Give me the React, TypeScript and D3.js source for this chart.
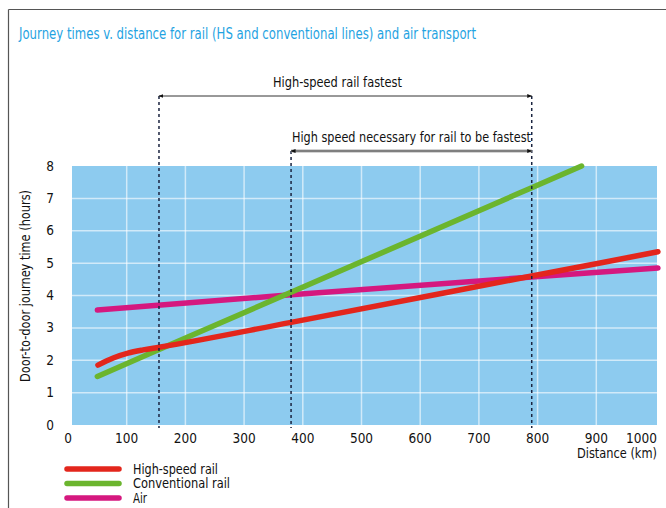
import React from "react";
import * as d3 from "d3";

const title = "Journey times v. distance for rail (HS and conventional lines) and air transport";
const seriesNames = ["High-speed rail", "Conventional rail", "Air"];
const seriesColors = ["#e3261c", "#6bb52e", "#d5187f"];
const legendTextWidths = [85, 97, 14];

const hsDist = [51, 77, 102, 128, 155, 380, 790, 1005];
const hsTime = [1.85, 2.07, 2.22, 2.32, 2.4, 3.17, 4.6, 5.35];
const convDist = [50, 155, 380, 790, 875];
const convTime = [1.5, 2.33, 4.1, 7.33, 8.0];
const airDist = [50, 380, 790, 1005];
const airTime = [3.55, 4.02, 4.57, 4.85];

const xTicks = [0, 100, 200, 300, 400, 500, 600, 700, 800, 900, 1000];
const yTicks = [0, 1, 2, 3, 4, 5, 6, 7, 8];
const thresholds = [155, 380, 790];
const annotations = ["High-speed rail fastest", "High speed necessary for rail to be fastest"];

const FONT = "'DejaVu Sans Condensed', 'DejaVu Sans', sans-serif";

export default function App() {
  const W = 666, H = 508;
  const x = d3.scaleLinear().domain([0, 1000]).range([68, 655]);
  const y = d3.scaleLinear().domain([0, 8]).range([425, 166]);
  const plotL = 72, plotR = 657;

  const line = d3
    .line<[number, number]>()
    .x((d) => x(d[0]))
    .y((d) => y(d[1]))
    .curve(d3.curveMonotoneX);

  const series = [
    hsDist.map((d, i) => [d, hsTime[i]] as [number, number]),
    convDist.map((d, i) => [d, convTime[i]] as [number, number]),
    airDist.map((d, i) => [d, airTime[i]] as [number, number]),
  ];
  const order = [2, 1, 0];

  const arrow1Y = 96, arrow2Y = 151;
  const fit = { lengthAdjust: "spacingAndGlyphs" as const };

  return (
    <svg width={W} height={H} style={{ position: "absolute", left: 0, top: 0, background: "#fff" }}>
      <defs>
        <marker id="ah" viewBox="0 0 10 10" refX="9" refY="5" markerWidth="5" markerHeight="5" orient="auto-start-reverse">
          <path d="M0,1 L10,5 L0,9 Z" fill="#111" />
        </marker>
      </defs>
      <line x1={8.5} y1={9.5} x2={W} y2={9.5} stroke="#555" strokeWidth={1.2} />
      <line x1={8.5} y1={9.5} x2={8.5} y2={H} stroke="#555" strokeWidth={1.2} />

      <text x={19} y={39} fontFamily={FONT} fontSize={15} fill="#1fa3e2" textLength={457} {...fit}>
        {title}
      </text>

      <rect x={plotL} y={y(8)} width={plotR - plotL} height={y(0) - y(8)} fill="#8dcbef" />
      {yTicks.slice(1, -1).map((t) => (
        <line key={"h" + t} x1={plotL} x2={plotR} y1={y(t)} y2={y(t)} stroke="#ffffff" strokeOpacity={0.6} strokeWidth={1.5} />
      ))}
      {xTicks.slice(1, -1).map((t) => (
        <line key={"v" + t} x1={x(t)} x2={x(t)} y1={y(8)} y2={y(0)} stroke="#ffffff" strokeOpacity={0.6} strokeWidth={1.5} />
      ))}

      {order.map((i) => (
        <path key={i} d={line(series[i]) || ""} fill="none" stroke={seriesColors[i]} strokeWidth={5.5} strokeLinecap="round" strokeLinejoin="round" />
      ))}

      {thresholds.map((t, i) => (
        <line
          key={"th" + t}
          x1={x(t)}
          x2={x(t)}
          y1={i === 1 ? arrow2Y : arrow1Y}
          y2={428}
          stroke="#1a2440"
          strokeWidth={1.5}
          strokeDasharray="3,3"
        />
      ))}

      <line x1={x(thresholds[0])} x2={x(thresholds[2])} y1={arrow1Y} y2={arrow1Y} stroke="#333" strokeWidth={1} markerStart="url(#ah)" markerEnd="url(#ah)" />
      <line x1={x(thresholds[1])} x2={x(thresholds[2])} y1={arrow2Y} y2={arrow2Y} stroke="#aaa" strokeWidth={3} />
      <line x1={x(thresholds[1])} x2={x(thresholds[2])} y1={arrow2Y} y2={arrow2Y} stroke="#555" strokeWidth={1} markerStart="url(#ah)" markerEnd="url(#ah)" />
      <text x={273} y={87} fontFamily={FONT} fontSize={14} fill="#111" textLength={129} {...fit}>
        {annotations[0]}
      </text>
      <text x={292} y={142} fontFamily={FONT} fontSize={14} fill="#111" textLength={239} {...fit}>
        {annotations[1]}
      </text>

      {yTicks.map((t) => (
        <text key={"yl" + t} x={54} y={y(t) + 4.5} textAnchor="end" fontFamily={FONT} fontSize={13.5} fill="#111">
          {t}
        </text>
      ))}
      <text transform={`translate(30,${286}) rotate(-90)`} textAnchor="middle" fontFamily={FONT} fontSize={14} fill="#111" textLength={192} {...fit}>
        Door-to-door journey time (hours)
      </text>

      {xTicks.map((t, i) => (
        <text
          key={"xl" + t}
          x={i === xTicks.length - 1 ? plotR : x(t)}
          y={443}
          textAnchor={i === xTicks.length - 1 ? "end" : "middle"}
          fontFamily={FONT}
          fontSize={13.5}
          fill="#111"
        >
          {t}
        </text>
      ))}
      <text x={plotR} y={458} textAnchor="end" fontFamily={FONT} fontSize={14} fill="#111" textLength={80} {...fit}>
        Distance (km)
      </text>

      {seriesNames.map((n, i) => (
        <g key={n} transform={`translate(0,${469 + i * 14.5})`}>
          <line x1={67} x2={119} y1={0} y2={0} stroke={seriesColors[i]} strokeWidth={5.5} strokeLinecap="round" />
          <text x={133} y={4.5} fontFamily={FONT} fontSize={14} fill="#111" textLength={legendTextWidths[i]} {...fit}>
            {n}
          </text>
        </g>
      ))}
    </svg>
  );
}
